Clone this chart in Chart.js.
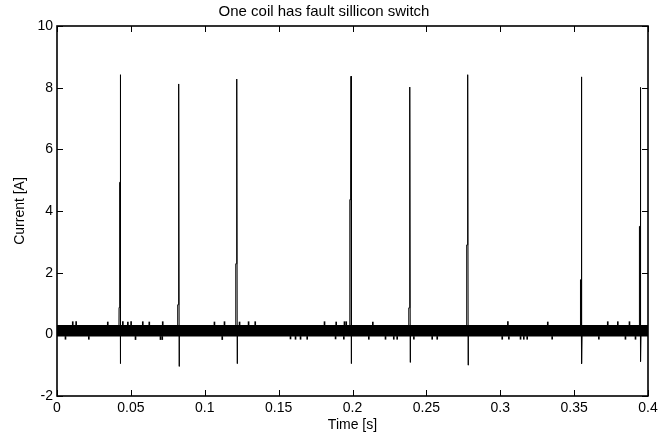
<!DOCTYPE html>
<html>
<head>
<meta charset="utf-8">
<script src="https://cdn.jsdelivr.net/npm/chart.js@4/dist/chart.umd.min.js"></script>
<style>
  html, body { margin: 0; padding: 0; background: #ffffff; }
  #wrap { width: 671px; height: 435px; }
</style>
</head>
<body>
<div id="wrap"><canvas id="c" width="671" height="435"></canvas></div>
<script>
// ---------- data ----------
const chartTitle = 'One coil has fault sillicon switch';
const xTitle = 'Time [s]';
const yTitle = 'Current [A]';

const xTickLabels = ['0', '0.05', '0.1', '0.15', '0.2', '0.25', '0.3', '0.35', '0.4'];
const yTickLabels = ['-2', '0', '2', '4', '6', '8', '10'];

// switching ripple band (envelope of the dense PWM ripple around zero)
const bandTime = [0, 0.4];
const bandUpper = [0.30, 0.30];
const bandLower = [-0.07, -0.07];

// isolated ripple excursions above the band (time, peak current)
const noiseUpTime = [0.0110, 0.0133, 0.0347, 0.0449, 0.0483, 0.0505, 0.0584, 0.0628, 0.0719, 0.1069, 0.1137, 0.1239, 0.1300, 0.1345, 0.1814, 0.1893, 0.1949, 0.1961, 0.2141, 0.3055, 0.3325, 0.3731, 0.3799, 0.3878];
const noiseUpValue = [0.41, 0.41, 0.40, 0.41, 0.40, 0.41, 0.41, 0.40, 0.41, 0.40, 0.41, 0.40, 0.41, 0.41, 0.41, 0.40, 0.41, 0.41, 0.40, 0.41, 0.40, 0.41, 0.41, 0.41];
// isolated ripple excursions below the band (time, minimum current)
const noiseDownTime = [0.0054, 0.0212, 0.0528, 0.0697, 0.0709, 0.1115, 0.1577, 0.1611, 0.1645, 0.1690, 0.1882, 0.1938, 0.2107, 0.2220, 0.2276, 0.2299, 0.2412, 0.2536, 0.2570, 0.3010, 0.3055, 0.3134, 0.3156, 0.3179, 0.3348, 0.3664, 0.3844, 0.3912];
const noiseDownValue = [-0.16, -0.16, -0.17, -0.17, -0.17, -0.17, -0.15, -0.16, -0.16, -0.16, -0.15, -0.16, -0.16, -0.16, -0.16, -0.16, -0.16, -0.16, -0.16, -0.16, -0.16, -0.16, -0.16, -0.16, -0.16, -0.16, -0.16, -0.16];

// current trace with the eight commutation spikes (time [s], current [A])
const traceTime = [
  0,
  0.0419, 0.0420, 0.0424, 0.0425, 0.0427, 0.0428, 0.0430, 0.0431,
  0.0816, 0.0817, 0.0821, 0.0822, 0.0824, 0.0825, 0.0827, 0.0828,
  0.1209, 0.1210, 0.1214, 0.1215, 0.1217, 0.1218, 0.1220, 0.1221,
  0.1981, 0.1982, 0.1988, 0.1990, 0.1992, 0.1993,
  0.2380, 0.2381, 0.2385, 0.2386, 0.2388, 0.2389, 0.2391, 0.2392,
  0.2772, 0.2773, 0.2777, 0.2778, 0.2780, 0.2781, 0.2783, 0.2784,
  0.3542, 0.3543, 0.3547, 0.3548, 0.3550, 0.3551, 0.3553, 0.3554,
  0.3941, 0.3942, 0.3946, 0.3947, 0.3949, 0.3950, 0.3952, 0.3953,
  0.4
];
const traceCurrent = [
  0.10,
  0.10, 0.87, 0.87, 4.93, 4.93, 8.42, -0.95, 0.10,
  0.10, 0.96, 0.96, 5.08, 5.08, 8.12, -1.04, 0.10,
  0.10, 2.29, 2.29, 6.22, 6.22, 8.28, -0.95, 0.10,
  0.10, 4.37, 4.37, 8.37, -0.95, 0.10,
  0.10, 0.86, 0.86, 5.02, 5.02, 8.02, -0.91, 0.10,
  0.10, 2.90, 2.90, 6.90, 6.90, 8.42, -1.00, 0.10,
  0.10, 1.77, 1.77, 5.76, 5.76, 8.35, -0.95, 0.10,
  0.10, 3.50, 3.50, 7.19, 7.19, 8.01, -0.88, 0.10,
  0.10
];

// ---------- build datasets ----------
const toXY = (xs, ys) => xs.map((x, i) => ({ x: x, y: ys[i] }));
const bandUpperPts = toXY(bandTime, bandUpper);
const bandLowerPts = toXY(bandTime, bandLower);
const noiseUpPts = noiseUpTime.map((t, i) => ({ x: t, y: [bandUpper[0], noiseUpValue[i]] }));
const noiseDownPts = noiseDownTime.map((t, i) => ({ x: t, y: [noiseDownValue[i], bandLower[0]] }));
const tracePts = toXY(traceTime, traceCurrent);

const FONT = 'Arial, "Liberation Sans", Helvetica, sans-serif';

const framePlugin = {
  id: 'matlabFrame',
  beforeDraw(chart) {
    const c = chart.ctx;
    c.save();
    c.fillStyle = '#ffffff';
    c.fillRect(0, 0, chart.width, chart.height);
    c.restore();
  },
  afterDraw(chart) {
    const { ctx: c, chartArea: a, scales } = chart;
    const tl = 6;
    c.save();
    c.strokeStyle = '#000000';
    c.lineWidth = 1;
    c.beginPath();
    scales.x.ticks.forEach(t => {
      const px = Math.round(scales.x.getPixelForValue(t.value)) + 0.5;
      c.moveTo(px, a.bottom); c.lineTo(px, a.bottom - tl);
      c.moveTo(px, a.top); c.lineTo(px, a.top + tl);
    });
    scales.y.ticks.forEach(t => {
      const py = Math.round(scales.y.getPixelForValue(t.value)) + 0.5;
      c.moveTo(a.left, py); c.lineTo(a.left + tl, py);
      c.moveTo(a.right, py); c.lineTo(a.right - tl, py);
    });
    c.stroke();
    c.lineWidth = 1.6;
    c.strokeRect(a.left, a.top, a.right - a.left, a.bottom - a.top);
    c.restore();
  }
};

new Chart(document.getElementById('c'), {
  type: 'line',
  data: {
    datasets: [
      { type: 'line', data: bandUpperPts, borderWidth: 0, pointRadius: 0, fill: false, borderColor: '#000' },
      { type: 'line', data: bandLowerPts, borderWidth: 0, pointRadius: 0, fill: '-1', backgroundColor: '#000000', borderColor: '#000' },
      { type: 'bar', data: noiseUpPts, backgroundColor: '#000000', barThickness: 1, borderWidth: 0 },
      { type: 'bar', data: noiseDownPts, backgroundColor: '#000000', barThickness: 1, borderWidth: 0 },
      { type: 'line', data: tracePts, borderColor: '#000000', borderWidth: 1, pointRadius: 0, tension: 0, fill: false }
    ]
  },
  options: {
    responsive: false,
    animation: false,
    layout: { padding: { left: 0, right: 23, top: 0, bottom: 0 } },
    plugins: {
      legend: { display: false },
      tooltip: { enabled: false },
      title: {
        display: true,
        text: chartTitle,
        color: '#000000',
        font: { family: FONT, size: 15, weight: 'normal' },
        padding: { top: 3, bottom: 5 }
      }
    },
    scales: {
      x: {
        type: 'linear',
        min: 0, max: 0.4,
        offset: false,
        grid: { display: false, drawTicks: false, offset: false },
        border: { display: false },
        ticks: {
          stepSize: 0.05,
          color: '#000000',
          padding: 4,
          maxRotation: 0,
          autoSkip: false,
          font: { family: FONT, size: 14 },
          callback: (v, i) => xTickLabels[i]
        },
        title: {
          display: true, text: xTitle, color: '#000000',
          font: { family: FONT, size: 14 },
          padding: { top: 0, bottom: 1 }
        },
        afterFit: s => { s.height = 39; }
      },
      y: {
        type: 'linear',
        min: -2, max: 10,
        grid: { display: false, drawTicks: false },
        border: { display: false },
        ticks: {
          stepSize: 2,
          color: '#000000',
          padding: 4,
          font: { family: FONT, size: 14 },
          callback: (v, i) => yTickLabels[i]
        },
        title: {
          display: true, text: yTitle, color: '#000000',
          font: { family: FONT, size: 14 },
          padding: { top: 12, bottom: 0 }
        },
        afterFit: s => { s.width = 57; }
      }
    }
  },
  plugins: [framePlugin]
});
</script>
</body>
</html>
